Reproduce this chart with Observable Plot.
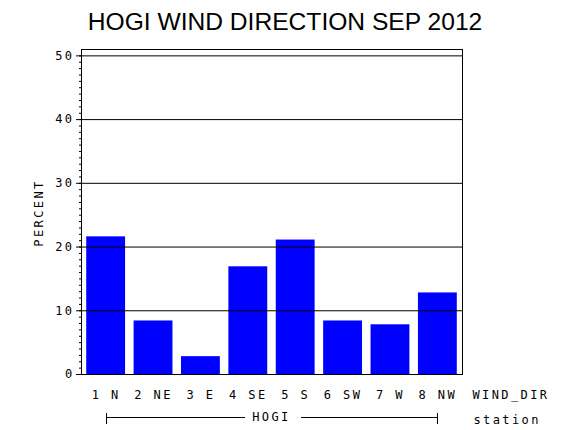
<!DOCTYPE html>
<html><head><meta charset="utf-8">
<script src="https://cdn.jsdelivr.net/npm/d3@7"></script>
<script src="https://cdn.jsdelivr.net/npm/@observablehq/plot@0.6"></script>
<style>
body{margin:0;background:#fff;width:570px;height:430px;overflow:hidden}
#title{height:31px;padding-top:9px;line-height:26px;font-family:"Liberation Sans",Arial,sans-serif;font-size:24.6px;text-align:center;color:#000;width:570px;white-space:nowrap}
svg text{letter-spacing:2.4px}
</style></head><body>
<div id="title"></div>
<div id="chart"></div>
<script>
const title = "HOGI WIND DIRECTION SEP 2012";
const directions = ["1 N","2 NE","3 E","4 SE","5 S","6 SW","7 W","8 NW"];
const percents = [21.6, 8.4, 2.8, 16.9, 21.1, 8.4, 7.8, 12.8];
const yMajorTicks = [0,10,20,30,40,50];
const yGridLines = [10,20,30,40,50];
const yMinorTicks = d3.range(0,51);
const yLabel = "PERCENT";
const xLabel = "WIND_DIR";
const groupLabel = "HOGI";
const groupVar = "station";

document.getElementById("title").textContent = title;
const data = directions.map((d,i)=>({dir:d, pct:percents[i]}));

const chart = Plot.plot({
  width: 570, height: 390,
  marginTop: 9, marginBottom: 56, marginLeft: 81, marginRight: 108,
  style: {fontFamily: '"DejaVu Sans Mono", monospace', fontSize: "12px", color: "black", background: "white", overflow: "visible"},
  x: {type: "band", domain: directions, paddingInner: 0.18, paddingOuter: 0.11, round: false, label: null},
  y: {domain: [0, 51], label: null},
  marks: [
    Plot.barY(data, {x: "dir", y: "pct", fill: "#0000ff"}),
    Plot.ruleY(yGridLines, {stroke: "black"}),
    Plot.frame({stroke: "black"}),
    Plot.axisY({ticks: yMinorTicks, tickSize: 2, tickFormat: () => "", label: null}),
    Plot.axisY({ticks: yMajorTicks, tickSize: 5, tickPadding: 2, label: null}),
    Plot.axisX({tickSize: 0, tickPadding: 16, label: null}),
    Plot.text([yLabel], {text: d => d, frameAnchor: "left", textAnchor: "middle", lineAnchor: "middle", rotate: -90, dx: -42, dy: 1}),
    Plot.text([xLabel], {text: d => d, frameAnchor: "bottom-right", textAnchor: "start", lineAnchor: "top", dx: 10, dy: 16}),
    Plot.text([groupVar], {text: d => d, frameAnchor: "bottom-right", textAnchor: "start", lineAnchor: "top", dx: 11, dy: 41})
  ]
});
document.getElementById("chart").appendChild(chart);

// group bracket under the categories, positioned from the Plot scales
const xs = chart.scale("x");
const ys = chart.scale("y");
const bw = xs.bandwidth;
const xa = xs.apply(directions[0]) + bw / 2;
const xb = xs.apply(directions[directions.length - 1]) + bw / 2;
const xm = (xa + xb) / 2;
const yb = ys.apply(0) + 43;
const g = d3.select(chart).append("g").attr("stroke", "black").attr("stroke-width", 1).attr("shape-rendering", "crispEdges");
const half = 28;
[[xa, yb, xm - half, yb], [xm + half, yb, xb, yb], [xa, yb - 5, xa, yb + 6], [xb, yb - 5, xb, yb + 6]].forEach(([x1, y1, x2, y2]) => {
  g.append("line").attr("x1", Math.round(x1) + 0.5).attr("y1", Math.round(y1) + 0.5).attr("x2", Math.round(x2) + 0.5).attr("y2", Math.round(y2) + 0.5);
});
d3.select(chart).append("text")
  .attr("x", xm).attr("y", yb).attr("dy", "0.35em")
  .attr("text-anchor", "middle").attr("fill", "black")
  .text(groupLabel);
</script>
</body></html>
